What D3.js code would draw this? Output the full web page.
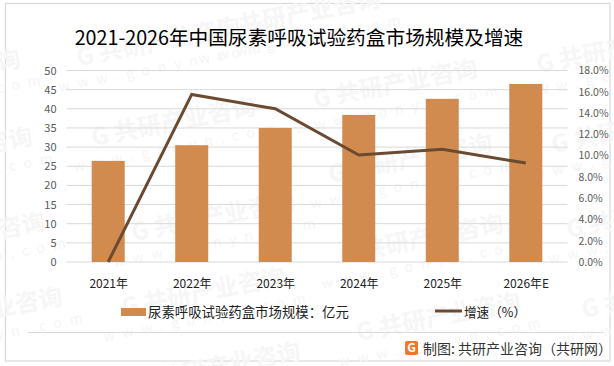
<!DOCTYPE html>
<html>
<head>
    <meta charset="utf-8">
    <title>2021-2026年中国尿素呼吸试验药盒市场规模及增速</title>
    <style>
        html, body { margin: 0; padding: 0; background: #fff; }
        svg { display: block; }
        text { font-family: "Noto Sans CJK SC", sans-serif; }
    </style>
    <script src="https://d3js.org/d3.v7.min.js"></script>
</head>
<body>
    <div id="chart"></div>
    <script>
        var years = ["2021年", "2022年", "2023年", "2024年", "2025年", "2026年E"];
        var marketSize = [26.4, 30.5, 35, 38.4, 42.6, 46.5];
        var growthRate = [0, 15.75, 14.4, 10.05, 10.6, 9.3];
        var leftTicks = [0, 5, 10, 15, 20, 25, 30, 35, 40, 45, 50];
        var rightTicks = [0, 2, 4, 6, 8, 10, 12, 14, 16, 18];
        var watermarkSpots = [[160, 50], [300, 22], [-60, 82], [175, 130], [397, 92], [620, 57],
            [-48, 160], [412, 167], [635, 137], [-35, 245], [215, 225], [423, 247], [650, 222],
            [-18, 320], [205, 300], [440, 325], [665, 302], [220, 375]];

        var width = 614, height = 366;
        var plotLeft = 66.5, plotRight = 567.5, plotTop = 70.5, plotBottom = 262;

        var svg = d3.select("#chart").append("svg")
            .attr("width", width)
            .attr("height", height);

        svg.append("rect")
            .attr("x", 5.5).attr("y", 3.5)
            .attr("width", 604.5).attr("height", 357.5)
            .attr("fill", "#fff")
            .attr("stroke", "#d9d9d9")
            .attr("stroke-width", 1.2);

        // watermark behind everything
        var marks = svg.append("g").selectAll("g")
            .data(watermarkSpots)
            .enter()
            .append("g")
            .attr("transform", function(d) { return "translate(" + d[0] + "," + d[1] + ") rotate(-11)"; });

        marks.append("text")
            .attr("text-anchor", "middle")
            .attr("font-size", 24)
            .attr("font-weight", 700)
            .attr("fill", "#f6f6f6")
            .text("G 共研产业咨询");

        marks.append("text")
            .attr("y", 22)
            .attr("text-anchor", "middle")
            .attr("font-size", 14)
            .attr("letter-spacing", 8)
            .attr("fill", "#f5f5f5")
            .text("www.gonyn.com");

        var xCenter = d3.scalePoint().domain(years).range([plotLeft + 41.7, plotRight - 41.7]);
        var y = d3.scaleLinear().domain([0, 50]).range([plotBottom, plotTop]);
        var yRate = d3.scaleLinear().domain([0, 18]).range([plotBottom, plotTop]);

        // gridlines
        svg.append("g").selectAll("line")
            .data(leftTicks)
            .enter()
            .append("line")
            .attr("x1", plotLeft).attr("x2", plotRight)
            .attr("y1", function(d) { return y(d); })
            .attr("y2", function(d) { return y(d); })
            .attr("stroke", "#d9d9d9")
            .attr("stroke-width", 1);

        svg.append("g").selectAll("rect")
            .data(years)
            .enter()
            .append("rect")
            .attr("x", function(d) { return xCenter(d) - 16.5; })
            .attr("width", 33)
            .attr("y", function(d, i) { return y(marketSize[i]); })
            .attr("height", function(d, i) { return plotBottom - y(marketSize[i]); })
            .attr("fill", "#d18b4f");

        var line = d3.line()
            .x(function(d, i) { return xCenter(years[i]); })
            .y(function(d) { return yRate(d); });

        svg.append("path")
            .datum(growthRate)
            .attr("d", line)
            .attr("fill", "none")
            .attr("stroke", "#6b4a32")
            .attr("stroke-width", 3);

        // axes, domain and tick marks off
        var leftAxis = svg.append("g")
            .attr("transform", "translate(" + plotLeft + ",0)")
            .call(d3.axisLeft(y).tickValues(leftTicks).tickSize(0).tickPadding(10));
        var rightAxis = svg.append("g")
            .attr("transform", "translate(" + (plotRight + 11) + ",0)")
            .call(d3.axisRight(yRate).tickValues(rightTicks).tickSize(0).tickPadding(0)
                .tickFormat(function(d) { return d.toFixed(1) + "%"; }));
        var bottomAxis = svg.append("g")
            .attr("transform", "translate(0," + plotBottom + ")")
            .call(d3.axisBottom(xCenter).tickSize(0).tickPadding(17));

        [leftAxis, rightAxis, bottomAxis].forEach(function(a) { a.select(".domain").remove(); });
        leftAxis.selectAll("text").attr("font-size", 11).attr("fill", "#595959").attr("font-family", "Liberation Sans, sans-serif");
        rightAxis.selectAll("text").attr("font-size", 10.5).attr("fill", "#595959").attr("font-family", "Liberation Sans, sans-serif");
        bottomAxis.selectAll("text").attr("font-size", 12).attr("fill", "#222");

        svg.append("text")
            .attr("x", 299).attr("y", 45)
            .attr("text-anchor", "middle")
            .attr("font-size", 19.7)
            .attr("fill", "#000")
            .text("2021-2026年中国尿素呼吸试验药盒市场规模及增速");

        // legend
        svg.append("rect")
            .attr("x", 121).attr("y", 308)
            .attr("width", 25).attr("height", 8)
            .attr("fill", "#d18b4f");
        svg.append("text")
            .attr("x", 148).attr("y", 317)
            .attr("font-size", 13.4)
            .attr("fill", "#222")
            .text("尿素呼吸试验药盒市场规模：亿元");
        svg.append("line")
            .attr("x1", 435).attr("x2", 462)
            .attr("y1", 311).attr("y2", 311)
            .attr("stroke", "#6b4a32")
            .attr("stroke-width", 3);
        svg.append("text")
            .attr("x", 464).attr("y", 317)
            .attr("font-size", 12.6)
            .attr("fill", "#222")
            .text("增速（%）");

        // footer
        svg.append("line")
            .attr("x1", 28).attr("x2", 603)
            .attr("y1", 332.5).attr("y2", 332.5)
            .attr("stroke", "#d9d9d9");
        svg.append("rect")
            .attr("x", 405).attr("y", 341)
            .attr("width", 13).attr("height", 14)
            .attr("rx", 2)
            .attr("fill", "#f0772a");
        svg.append("text")
            .attr("x", 411.5).attr("y", 352)
            .attr("text-anchor", "middle")
            .attr("font-size", 12)
            .attr("font-weight", 700)
            .attr("fill", "#fff")
            .text("G");
        svg.append("text")
            .attr("x", 423).attr("y", 354)
            .attr("font-size", 14)
            .attr("fill", "#333")
            .text("制图: 共研产业咨询（共研网）");
    </script>
</body>
</html>
